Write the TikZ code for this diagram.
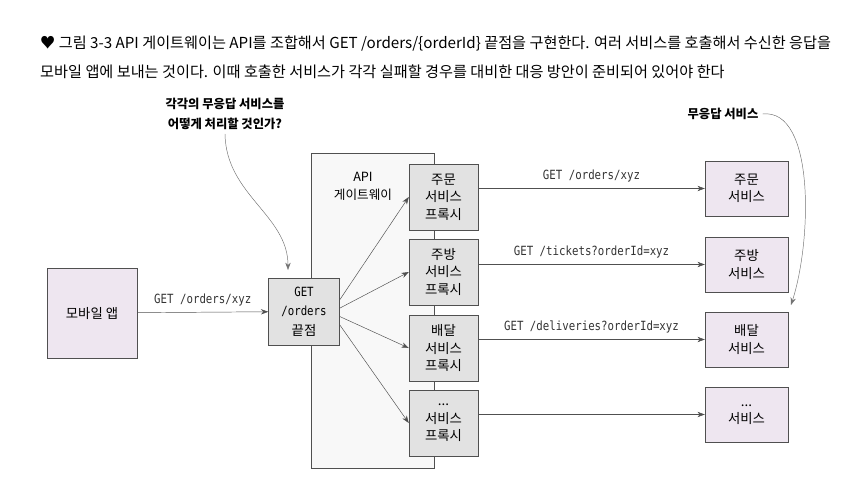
\documentclass[tikz,border=0pt]{standalone}
\usepackage{fontspec}
\usepackage{tikz}
\usetikzlibrary{arrows.meta,positioning,calc}
\usepackage{xcolor}
\newfontfamily\kr{Noto Sans CJK KR}
\newfontfamily\code[FakeStretch=0.85]{DejaVu Sans Mono}
\definecolor{svcfill}{HTML}{EEE6F0}
\definecolor{pxfill}{HTML}{E2E2E2}
\definecolor{gwfill}{HTML}{F8F8F8}
\definecolor{edge}{HTML}{505050}

\begin{document}
\begin{tikzpicture}[
				x=0.03cm,y=-0.03cm,
				box/.style={draw=edge,rectangle,align=center,font=\kr\fontsize{11.4}{15}\selectfont},
				svc/.style={box,fill=svcfill,minimum width=2.49cm,minimum height=1.65cm},
				proxy/.style={box,fill=pxfill,minimum width=2.07cm,minimum height=1.98cm},
				req/.style={font=\code\fontsize{10.8}{12}\selectfont,text=black!80},
				link/.style={draw=edge,-{Stealth[length=2.2mm,width=1.6mm]}}
				]
				\useasboundingbox (0,0) rectangle (855,497);
				
				% caption
				\node[anchor=west,inner sep=0,font=\kr\fontsize{12.95}{14}\selectfont] (cap1) at (40,44) {♥ 그림 3-3 API 게이트웨이는 API를 조합해서 GET /orders/\{orderId\} 끝점을 구현한다. 여러 서비스를 호출해서 수신한 응답을};
				\node[anchor=west,inner sep=0,font=\kr\fontsize{12.95}{14}\selectfont] (cap2) at (40,72) {모바일 앱에 보내는 것이다. 이때 호출한 서비스가 각각 실패할 경우를 대비한 대응 방안이 준비되어 있어야 한다};
				
				% gateway
				\node[draw=edge,fill=gwfill,minimum width=3.69cm,minimum height=9.45cm] (gw) at (372.5,310.5) {};
				\node[align=center,font=\kr\fontsize{10.8}{15.5}\selectfont] (gwlabel) at (363,186) {API\\게이트웨이};
				
				% clients and endpoint
				\node[box,fill=svcfill,minimum width=2.7cm,minimum height=2.7cm] (mobile) at (92,313) {모바일 앱};
				\node[box,fill=pxfill,minimum width=2.13cm,minimum height=2.01cm,font=\fontsize{10.8}{16.5}\selectfont] (get) at (304,311.5) {{\code GET}\\{\code /orders}\\{\kr\fontsize{11.4}{16.5}\selectfont 끝점}};
				
				% proxies
				\node[proxy] (p1) at (443.5,197) {주문\\서비스\\프록시};
				\node[proxy] (p2) at (443.5,272) {주방\\서비스\\프록시};
				\node[proxy] (p3) at (443.5,348) {배달\\서비스\\프록시};
				\node[proxy] (p4) at (443.5,423) {...\\서비스\\프록시};
				
				% services
				\node[svc] (s1) at (746.5,188.5) {주문\\서비스};
				\node[svc] (s2) at (746.5,264.5) {주방\\서비스};
				\node[svc] (s3) at (746.5,339.5) {배달\\서비스};
				\node[svc] (s4) at (746.5,414.5) {...\\서비스};
				
				% calls
				\draw[link] (mobile) -- node[req,above=2pt] {GET /orders/xyz} (get);
				\draw[link] ([yshift=0.35cm]get.east) -- (p1.west);
				\draw[link] ([yshift=0.1cm]get.east) -- (p2.west);
				\draw[link] ([yshift=-0.15cm]get.east) -- (p3.west);
				\draw[link] ([yshift=-0.4cm]get.east) -- (p4.west);
				\draw[link] (s1.west -| p1.east) -- node[req,above=2pt] {GET /orders/xyz} (s1.west);
				\draw[link] (s2.west -| p2.east) -- node[req,above=2pt] {GET /tickets?orderId=xyz} (s2.west);
				\draw[link] (s3.west -| p3.east) -- node[req,above=2pt] {GET /deliveries?orderId=xyz} (s3.west);
				\draw[link] (s4.west -| p4.east) -- (s4.west);
				
				% annotations
				\node[align=center,font=\kr\bfseries\fontsize{10.5}{17}\selectfont] (note) at (225,114) {각각의 무응답 서비스를\\어떻게 처리할 것인가?};
				\coordinate (getin) at (288,270);
				\draw[link,draw=edge!80] (note.south) .. controls (226,195) and (288,215) .. (getin);
				
				\node[font=\kr\bfseries\fontsize{10.5}{12}\selectfont] (dead) at (723,114) {무응답 서비스};
				\coordinate (deadin) at (791,305);
				\draw[link,draw=edge!80] (dead.east) .. controls (815,108) and (812,240) .. (deadin);
				
			\end{tikzpicture}
\end{document}
